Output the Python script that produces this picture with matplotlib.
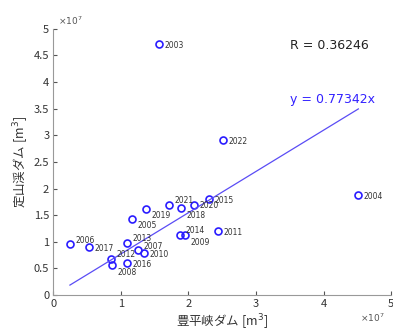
import numpy as np
import matplotlib.pyplot as plt

plt.rcParams['font.family'] = ['Noto Sans CJK JP', 'DejaVu Sans']

# 豊平峡ダム (x) と 定山渓ダム (y), 単位 1e7 m3
years = ['2003', '2004', '2005', '2006', '2007', '2008', '2009', '2010',
         '2011', '2012', '2013', '2014', '2015', '2016', '2017', '2018',
         '2019', '2020', '2021', '2022']
x_vals = [1.563, 4.516, 1.158, 0.244, 1.257, 0.867, 1.953, 1.34,
          2.437, 0.857, 1.089, 1.874, 2.304, 1.093, 0.52, 1.889,
          1.366, 2.08, 1.716, 2.516]
y_vals = [4.715, 1.87, 1.43, 0.95, 0.84, 0.56, 1.12, 0.79,
          1.20, 0.68, 0.975, 1.125, 1.80, 0.61, 0.90, 1.63,
          1.62, 1.70, 1.69, 2.91]
slope = 0.77342
r_value = 0.36246

# label offsets in points (dx, dy)
label_offsets = {'2005': (4, -5), '2008': (4, -5), '2009': (4, -5), '2018': (4, -5),
                 '2019': (4, -5), '2006': (4, 3), '2007': (4, 3), '2012': (4, 3),
                 '2013': (4, 3), '2014': (4, 3), '2021': (4, 3)}

x = np.array(x_vals) * 1e7
y = np.array(y_vals) * 1e7

fig = plt.figure(figsize=(3.93, 3.32), dpi=100)
ax = fig.add_axes([0.136, 0.111, 0.859, 0.803])

blue = '#3322ff'
ax.plot(x, y, 'o', mfc='none', mec='#2a1cff', ms=5, mew=1.2)
xs = np.array([x.min(), x.max()])
ax.plot(xs, slope * xs, color='#5a4cf5', lw=0.9)

for yr, xi, yi in zip(years, x, y):
    dx, dy = label_offsets.get(yr, (4, -1))
    ax.annotate(yr, (xi, yi), xytext=(dx, dy), textcoords='offset points',
                fontsize=5.5, color='#333333', va='center', ha='left',
                family='DejaVu Sans')

ax.text(0.70, 0.937, f'R = {r_value:.5f}', transform=ax.transAxes,
        fontsize=9, color='#222222', family='DejaVu Sans', va='center')
ax.text(0.70, 0.735, f'y = {slope:.5f}x', transform=ax.transAxes,
        fontsize=9, color=blue, family='DejaVu Sans', va='center')

ax.set_xlim(0, 5e7)
ax.set_ylim(0, 5e7)
ax.set_xticks(np.arange(0, 5.1e7, 1e7))
ax.set_yticks(np.arange(0, 5.1e7, 0.5e7))
ax.set_xticklabels(['0', '1', '2', '3', '4', '5'])
ax.set_yticklabels(['0', '0.5', '1', '1.5', '2', '2.5', '3', '3.5', '4', '4.5', '5'])
ax.tick_params(direction='in', length=3, labelsize=8, colors='#555555',
               labelcolor='#333333', pad=3)
for s in ['top', 'right']:
    ax.spines[s].set_visible(False)
for s in ['left', 'bottom']:
    ax.spines[s].set_color('#999999')
    ax.spines[s].set_linewidth(0.8)

ax.set_xlabel('豊平峡ダム [m$^3$]', fontsize=9, color='#333333', labelpad=2)
ax.set_ylabel('定山渓ダム [m$^3$]', fontsize=9, color='#333333', labelpad=2)

fig.text(0.148, 0.925, r'$\times10^7$', fontsize=6.5, color='#555555')
fig.text(0.915, 0.03, r'$\times10^7$', fontsize=6.5, color='#555555')

fig.savefig('out.png', dpi=100, facecolor='white')
